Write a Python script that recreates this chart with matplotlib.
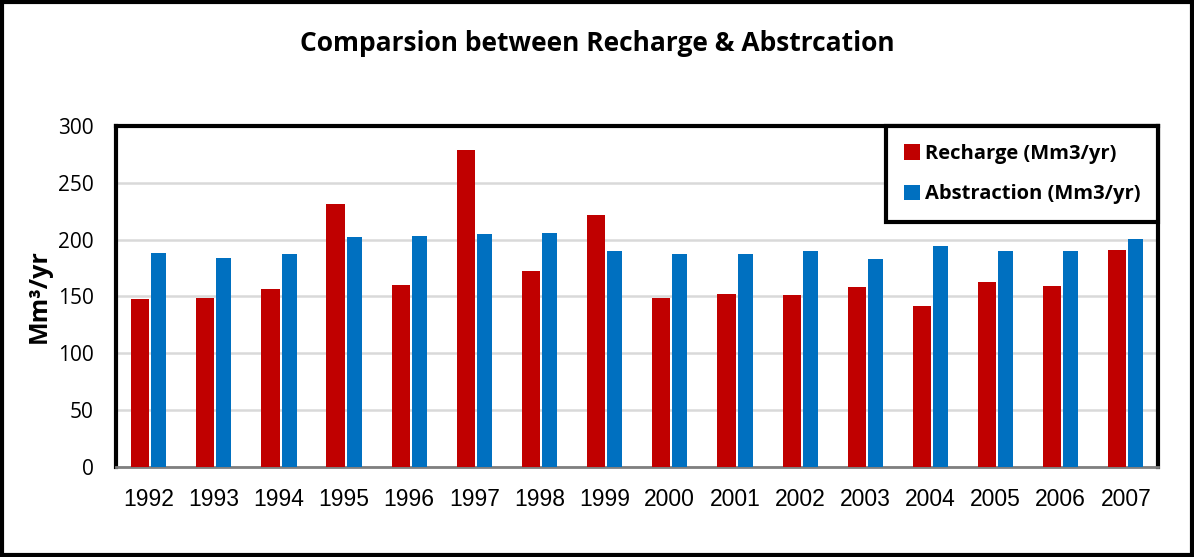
import numpy as np
import matplotlib.pyplot as plt
from matplotlib.patches import Rectangle

years = ['1992', '1993', '1994', '1995', '1996', '1997', '1998', '1999',
         '2000', '2001', '2002', '2003', '2004', '2005', '2006', '2007']
recharge = [148, 149, 157, 231, 160, 279, 172, 222,
            149, 152, 151, 158, 142, 163, 159, 191]
abstraction = [188, 184, 187, 202, 203, 205, 206, 190,
               187, 187, 190, 183, 194, 190, 190, 201]

red = '#c00000'
blue = '#0070c0'

fig = plt.figure(figsize=(11.94, 5.57), dpi=100)
ax = fig.add_axes([0.0972, 0.1616, 0.873, 0.6122])

x = np.arange(len(years))
ax.bar(x - 0.13, recharge, width=0.28, color=red, label='Recharge (Mm3/yr)', zorder=3)
ax.bar(x + 0.155, abstraction, width=0.23, color=blue, label='Abstraction (Mm3/yr)', zorder=3)

ax.set_xlim(-0.5, len(years) - 0.5)
ax.set_ylim(0, 300)
ax.set_yticks(np.arange(0, 301, 50))
ax.set_xticks(x)
ax.set_xticklabels(years)
ax.tick_params(axis='both', length=0)
ax.tick_params(axis='y', pad=16, labelsize=15)
ax.tick_params(axis='x', pad=15, labelsize=16.5)
for lab in ax.get_xticklabels():
    lab.set_family('Liberation Sans')
for lab in ax.get_yticklabels():
    lab.set_family('Open Sans')

ax.yaxis.grid(True, color='#d9d9d9', linewidth=1.8, zorder=0)
ax.set_axisbelow(True)

for side in ['top', 'left', 'right']:
    ax.spines[side].set_color('black')
    ax.spines[side].set_linewidth(3)
ax.spines['bottom'].set_color('#7f7f7f')
ax.spines['bottom'].set_linewidth(2)

ax.set_ylabel('Mm³/yr', fontsize=18, fontweight='bold', family=['Open Sans', 'DejaVu Sans'])
ax.yaxis.set_label_coords(-0.062, 0.5)

fig.text(0.5, 0.922, 'Comparsion between Recharge & Abstrcation',
         ha='center', va='center', fontsize=19, fontweight='bold', family='Open Sans')

leg = ax.legend(loc='upper right', bbox_to_anchor=(1.0, 1.0), borderaxespad=0,
                fancybox=False, framealpha=1, edgecolor='black',
                prop={'family': 'Open Sans', 'weight': 'bold', 'size': 14.5},
                handlelength=0.8, handleheight=0.8, handletextpad=0.25,
                labelspacing=1.0, borderpad=0.9)
leg.get_frame().set_linewidth(3)
leg.set_zorder(5)

fig.add_artist(Rectangle((0.002, 0.003), 0.996, 0.994, transform=fig.transFigure,
                         fill=False, edgecolor='black', linewidth=3))

fig.savefig('out.png', dpi=100)
